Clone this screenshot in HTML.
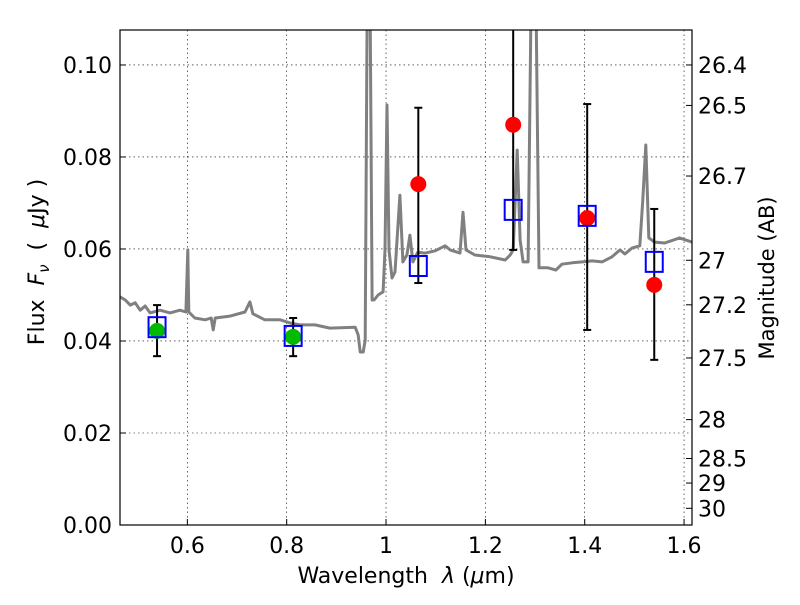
<!DOCTYPE html>
<html><head><meta charset="utf-8"><style>
body{margin:0;background:#fff;}
svg text{font-family:"DejaVu Sans","Liberation Sans",sans-serif;fill:#000;}
</style></head><body>
<svg id="chart" width="800" height="600" xmlns="http://www.w3.org/2000/svg">
<rect width="800" height="600" fill="#fff"/>
<defs><clipPath id="clip"><rect x="120" y="30" width="572" height="495"/></clipPath></defs>
<g id="grid"></g>
<g id="plot" clip-path="url(#clip)"></g>
<rect x="120" y="30" width="572" height="495" fill="none" stroke="#000" stroke-width="1.2"/>
<g id="axes"></g>
<text x="406" y="583" font-size="22" text-anchor="middle">Wavelength&#160;&#160;<tspan font-style="italic">λ</tspan> (<tspan font-style="italic">μ</tspan>m)</text>
<text transform="translate(44,262) rotate(-90)" font-size="22" text-anchor="middle">Flux&#160;&#160;<tspan font-style="italic">F</tspan><tspan font-style="italic" font-size="15" dy="5">ν</tspan><tspan dy="-5">&#160;&#160;(&#160;&#160;</tspan><tspan font-style="italic">μ</tspan>Jy )</text>
<text transform="translate(774,278) rotate(-90)" font-size="21" text-anchor="middle">Magnitude (AB)</text>
</svg>
<script>
const specWl=[0.464,0.475,0.485,0.495,0.505,0.515,0.525,0.545,0.565,0.585,0.597,0.601,0.603,0.615,0.636,0.648,0.652,0.656,0.686,0.716,0.726,0.732,0.756,0.787,0.807,0.827,0.857,0.887,0.938,0.944,0.948,0.954,0.958,0.962,0.968,0.972,0.976,0.984,0.994,0.998,1.002,1.006,1.012,1.018,1.028,1.034,1.042,1.048,1.054,1.064,1.079,1.099,1.119,1.129,1.149,1.155,1.161,1.179,1.210,1.240,1.250,1.256,1.264,1.270,1.276,1.286,1.292,1.302,1.308,1.326,1.342,1.354,1.375,1.395,1.415,1.435,1.455,1.471,1.481,1.495,1.511,1.517,1.523,1.529,1.541,1.561,1.591,1.616];
const specFlux=[0.0496,0.0489,0.0478,0.0483,0.0467,0.0476,0.0461,0.0467,0.0461,0.0467,0.0463,0.0598,0.0463,0.0450,0.0446,0.0450,0.0424,0.0450,0.0454,0.0463,0.0485,0.0459,0.0446,0.0446,0.0439,0.0435,0.0435,0.0428,0.0430,0.0413,0.0376,0.0376,0.0402,0.1141,0.1141,0.0489,0.0489,0.0500,0.0507,0.0598,0.0913,0.0598,0.0537,0.0550,0.0717,0.0572,0.0587,0.0630,0.0572,0.0593,0.0591,0.0596,0.0607,0.0598,0.0591,0.0680,0.0598,0.0587,0.0583,0.0576,0.0587,0.0598,0.0815,0.0620,0.0572,0.0572,0.1141,0.1141,0.0559,0.0559,0.0554,0.0567,0.0570,0.0572,0.0574,0.0572,0.0583,0.0598,0.0589,0.0602,0.0607,0.0707,0.0826,0.0624,0.0615,0.0613,0.0624,0.0615];
const greenWl=[0.539,0.813];
const greenFlux=[0.0422,0.0409];
const boxWl=[0.539,0.813,1.065,1.256,1.405,1.540];
const boxFlux=[0.0430,0.0411,0.0563,0.0685,0.0672,0.0572];
const redWl=[1.065,1.256,1.405,1.540];
const redFlux=[0.0741,0.0870,0.0667,0.0522];
const errWl=[0.539,0.813,1.065,1.256,1.405,1.540];
const errLo=[0.0367,0.0367,0.0526,0.0598,0.0424,0.0359];
const errHi=[0.0478,0.0450,0.0907,0.115,0.0915,0.0687];
const xTicks=[0.6,0.8,1.0,1.2,1.4,1.6];
const xTickLabels=["0.6","0.8","1","1.2","1.4","1.6"];
const yTicks=[0,0.02,0.04,0.06,0.08,0.10];
const yTickLabels=["0.00","0.02","0.04","0.06","0.08","0.10"];
const magTicks=[26.4,26.5,26.7,27,27.2,27.5,28,28.5,29,30];
const magLabels=["26.4","26.5","26.7","27","27.2","27.5","28","28.5","29","30"];

const XMIN=0.4644,XMAX=1.616,YMIN=0,YMAX=0.1076;
const L=120,R=692,T=30,B=525;
const sx=v=>L+(v-XMIN)/(XMAX-XMIN)*(R-L);
const sy=v=>B-(v-YMIN)/(YMAX-YMIN)*(B-T);
const NS="http://www.w3.org/2000/svg";
function mk(tag,attrs,parent){const e=document.createElementNS(NS,tag);for(const k in attrs)e.setAttribute(k,attrs[k]);parent.appendChild(e);return e;}
const grid=document.getElementById('grid'),plot=document.getElementById('plot'),axes=document.getElementById('axes');

xTicks.forEach((t,i)=>{
 const x=sx(t);
 const g=mk('line',{x1:x,x2:x,y1:T,y2:B,stroke:'#000','stroke-width':0.6,'stroke-dasharray':'1.5,3'},grid);
 
 
 const tk=mk('line',{x1:x,x2:x,y1:B,y2:B-6,stroke:'#000'},axes);
 
 
 const lb=mk('text',{x:x,y:B+28,'font-size':22,'text-anchor':'middle'},axes);
 lb.textContent=xTickLabels[i];
 
 
});
yTicks.forEach((t,i)=>{
 const y=sy(t);
 if(t>0){const g=mk('line',{x1:L,x2:R,y1:y,y2:y,stroke:'#000','stroke-width':0.6,'stroke-dasharray':'1.5,3'},grid);
 
 }
 const tk=mk('line',{x1:L,x2:L+6,y1:y,y2:y,stroke:'#000'},axes);
 
 
 const lb=mk('text',{x:112,y:y+8,'font-size':22,'text-anchor':'end'},axes);
 lb.textContent=yTickLabels[i];
 
 
});
magTicks.forEach((m,i)=>{
 const f=Math.pow(10,(23.9-m)/2.5);
 const y=sy(f);
 const tk=mk('line',{x1:R,x2:R-6,y1:y,y2:y,stroke:'#000'},axes);
 
 
 const lb=mk('text',{x:698,y:y+8,'font-size':22},axes);
 lb.textContent=magLabels[i];
 
 
});

const pts=specWl.map((w,i)=>sx(w).toFixed(1)+','+sy(specFlux[i]).toFixed(1)).join(' ');
const sp=mk('polyline',{points:pts,fill:'none',stroke:'#808080','stroke-width':3,'stroke-linejoin':'round'},plot);



errWl.forEach((w,i)=>{
 const x=sx(w),y1=sy(errLo[i]),y2=sy(errHi[i]);
 const g=mk('g',{},plot);
 
 
 mk('line',{x1:x,x2:x,y1:y1,y2:y2,stroke:'#000','stroke-width':2},g);
 mk('line',{x1:x-4,x2:x+4,y1:y1,y2:y1,stroke:'#000','stroke-width':2},g);
 mk('line',{x1:x-4,x2:x+4,y1:y2,y2:y2,stroke:'#000','stroke-width':2},g);
});
greenWl.forEach((w,i)=>{
 const c=mk('circle',{cx:sx(w),cy:sy(greenFlux[i]),r:8,fill:'#00bb00'},plot);
 
 
});
redWl.forEach((w,i)=>{
 const c=mk('circle',{cx:sx(w),cy:sy(redFlux[i]),r:8,fill:'#ff0000'},plot);
 
 
});
boxWl.forEach((w,i)=>{
 const r=mk('rect',{x:sx(w)-8.5,y:sy(boxFlux[i])-10,width:17,height:20,fill:'none',stroke:'#0000ff','stroke-width':2},plot);
 
 
});
</script>
</body></html>
